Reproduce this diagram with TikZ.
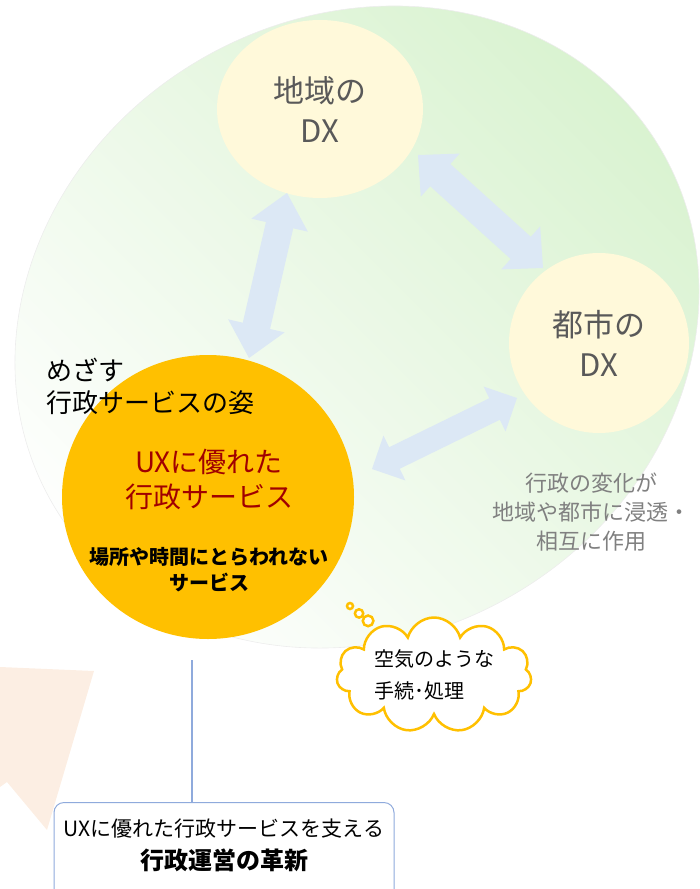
\documentclass[tikz,border=0pt]{standalone}
\usepackage{fontspec}
\newfontfamily\jp{Noto Sans CJK JP}
\usetikzlibrary{shapes.callouts,shapes.symbols,shapes.geometric,calc}
\definecolor{bggreen}{HTML}{D8F2CF}
\definecolor{bgmid}{HTML}{F1F7EC}
\definecolor{dxfill}{HTML}{FFF9DA}
\definecolor{dxtext}{HTML}{595959}
\definecolor{orangefill}{HTML}{FFC000}
\definecolor{uxred}{HTML}{A00000}
\definecolor{arrowblue}{HTML}{DCE8F5}
\definecolor{graytext}{HTML}{808080}
\definecolor{linkblue}{HTML}{8FAADC}
\definecolor{peach}{HTML}{FCEEE3}
% A, B, shaft half width, head half width, head length
\newcommand{\dblblockarrow}[5]{%
  \fill[arrowblue] (#1)
   -- ($(#1)!#5!(#2)!#4!90:(#2)$)
   -- ($(#1)!#5!(#2)!#3!90:(#2)$)
   -- ($(#2)!#5!(#1)!#3!-90:(#1)$)
   -- ($(#2)!#5!(#1)!#4!-90:(#1)$)
   -- (#2)
   -- ($(#2)!#5!(#1)!#4!90:(#1)$)
   -- ($(#2)!#5!(#1)!#3!90:(#1)$)
   -- ($(#1)!#5!(#2)!#3!-90:(#2)$)
   -- ($(#1)!#5!(#2)!#4!-90:(#2)$)
   -- cycle;}
\begin{document}
\begin{tikzpicture}[x=1pt,y=1pt,
  dxcircle/.style={ellipse, fill=dxfill, text=dxtext, font=\jp\fontsize{31}{40}\selectfont, align=center, inner sep=0pt},
  plain/.style={inner sep=0pt, align=center}]
\useasboundingbox (0,0) rectangle (700,-889);
\clip (0,0) rectangle (700,-889);
% background
\shadedraw[draw=black!7, line width=0.6, top color=bggreen, middle color=bgmid, bottom color=white, shading angle=-45]
  (357,-327) circle[x radius=352, y radius=310, rotate=30];
\fill[peach] (0,-667) -- (94,-671) -- (47,-830) -- (7,-782) -- (0,-787) -- cycle;
% circles
\node[dxcircle, minimum width=206, minimum height=178] (tiki) at (320,-109) {地域の\\DX};
\node[dxcircle, minimum width=180, minimum height=180] (toshi) at (599,-343) {都市の\\DX};
\node[ellipse, fill=orangefill, minimum width=292, minimum height=284, inner sep=0pt] (ux) at (208,-497) {};
% arrows
\coordinate (a1s) at (249,-358); \coordinate (a1e) at (287,-193);
\dblblockarrow{a1s}{a1e}{14pt}{29pt}{33pt}
\coordinate (a2s) at (418,-155); \coordinate (a2e) at (543,-268);
\dblblockarrow{a2s}{a2e}{15pt}{29pt}{30pt}
\coordinate (a3s) at (372,-469); \coordinate (a3e) at (517,-398);
\dblblockarrow{a3s}{a3e}{12pt}{25pt}{25pt}
% texts
\node[plain, anchor=west, align=left, font=\jp\fontsize{26}{32}\selectfont] (mezasu) at (46,-386) {めざす\\行政サービスの姿};
\node[plain, text=uxred, font=\jp\fontsize{28}{35}\selectfont] (uxt) at (209,-479) {UXに優れた\\行政サービス};
\node[plain, font=\jp\bfseries\fontsize{20}{26}\selectfont] (basho) at (209,-570) {場所や時間にとらわれない\\サービス};
\node[plain, text=graytext, font=\jp\fontsize{22}{29}\selectfont] (henka) at (591,-512) {行政の変化が\\地域や都市に浸透・\\相互に作用};
% cloud
\node[cloud callout, draw=orangefill, line width=2.5, fill=white, cloud puffs=11, cloud ignores aspect,
  minimum width=195, minimum height=115, callout absolute pointer={(350,-606)},
  callout pointer start size=15pt and 13pt, callout pointer end size=7pt and 6pt, callout pointer segments=3,
  font=\jp\fontsize{20}{32}\selectfont, align=left, inner sep=0pt] (cloud) at (434,-675) {空気のような\\手続･処理};
% bottom box
\node[draw=linkblue, line width=1, rounded corners=10, minimum width=340, minimum height=120, anchor=north, fill=white] (box) at (224,-802) {};
\node[plain, font=\jp\fontsize{21}{26}\selectfont] (boxl1) at (224,-829) {UXに優れた行政サービスを支える};
\node[plain, font=\jp\bfseries\fontsize{24}{30}\selectfont] (boxl2) at (224,-860) {行政運営の革新};
\coordinate (ls) at (192,-660);
\draw[linkblue, line width=1.2] (ls) -- (ls |- box.north);
\end{tikzpicture}
\end{document}
